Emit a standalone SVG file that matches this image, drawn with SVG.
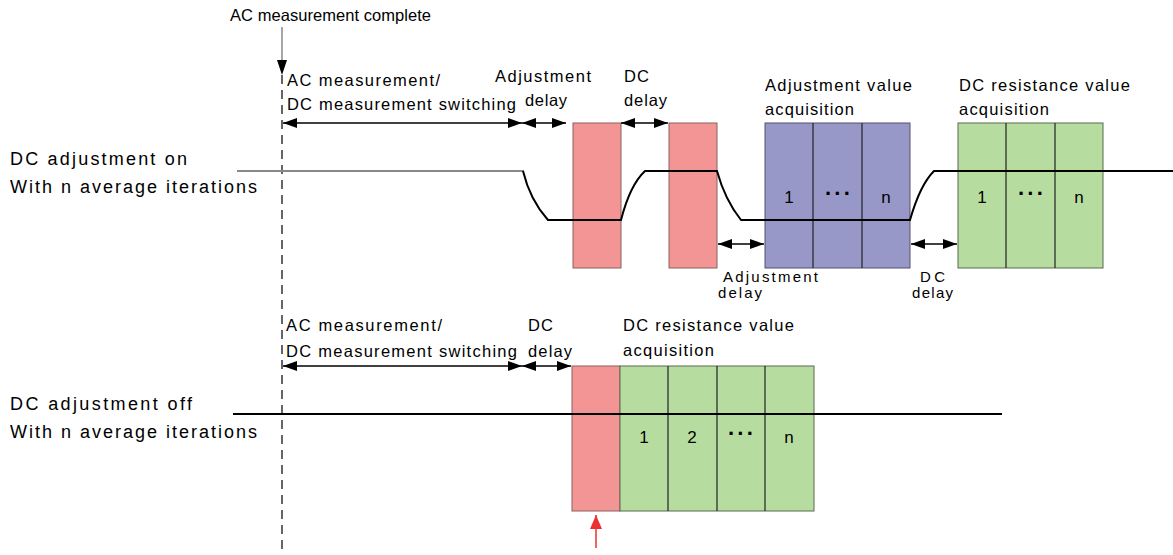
<svg xmlns="http://www.w3.org/2000/svg" width="1173" height="555" viewBox="0 0 1173 555">
<defs>
<marker id="ah" viewBox="0 0 14 10" refX="14" refY="5" markerWidth="14" markerHeight="10" markerUnits="userSpaceOnUse" orient="auto-start-reverse"><path d="M0,0 L14,5 L0,10 Z" fill="#000"/></marker>
<marker id="ahr" viewBox="0 0 14 12" refX="14" refY="6" markerWidth="14" markerHeight="12" markerUnits="userSpaceOnUse" orient="auto"><path d="M0,0 L14,6 L0,12 Z" fill="#ee3030"/></marker>
</defs>
<style>
text{font-family:"Liberation Sans",Arial,sans-serif;fill:#000}
.s{font-size:16.5px}
.t{font-size:15px}
.m{font-size:18px}
.r{fill:#f49595;stroke:#8a6060;stroke-width:1}
.p{fill:#9898c8;stroke:#505070;stroke-width:1}
.g{fill:#b6dca0;stroke:#5a6a50;stroke-width:1}
.dv{stroke:#222;stroke-width:1.2}
.w{fill:none;stroke:#000;stroke-width:2}
.a{stroke:#000;stroke-width:1.5;fill:none}
.num{font-size:17px;text-anchor:middle}
.dots{font-size:22px;font-weight:bold;text-anchor:middle;letter-spacing:2px}
</style>
<rect width="1173" height="555" fill="#fff"/>

<g id="labels">
<text class="s" x="230" y="21" textLength="201" lengthAdjust="spacing">AC measurement complete</text>
<text class="m" x="10" y="165" textLength="177" lengthAdjust="spacing">DC adjustment on</text>
<text class="m" x="10" y="193" textLength="247" lengthAdjust="spacing">With n average iterations</text>
<text class="m" x="10" y="410" textLength="182" lengthAdjust="spacing">DC adjustment off</text>
<text class="m" x="10" y="438" textLength="247" lengthAdjust="spacing">With n average iterations</text>
</g>

<g id="marker-line">
<line x1="282" y1="27" x2="282" y2="62" stroke="#888" stroke-width="1.5"/>
<path d="M277,60 L287,60 L282,75 Z" fill="#000"/>
<line x1="282" y1="75" x2="282" y2="555" stroke="#333" stroke-width="1.5" stroke-dasharray="9,6"/>
</g>

<g id="top-row">
<text class="s" x="287" y="86" textLength="153" lengthAdjust="spacing">AC measurement/</text>
<text class="s" x="287" y="110" textLength="229" lengthAdjust="spacing">DC measurement switching</text>
<text class="s" x="495" y="82" textLength="96" lengthAdjust="spacing">Adjustment</text>
<text class="s" x="525" y="106" textLength="42" lengthAdjust="spacing">delay</text>
<text class="s" x="624" y="82" textLength="25" lengthAdjust="spacing">DC</text>
<text class="s" x="624" y="106" textLength="43" lengthAdjust="spacing">delay</text>
<text class="s" x="765" y="91" textLength="147" lengthAdjust="spacing">Adjustment value</text>
<text class="s" x="765" y="115" textLength="89" lengthAdjust="spacing">acquisition</text>
<text class="s" x="959" y="91" textLength="171" lengthAdjust="spacing">DC resistance value</text>
<text class="s" x="959" y="115" textLength="90" lengthAdjust="spacing">acquisition</text>
<text class="t" x="723" y="282" textLength="95" lengthAdjust="spacing">Adjustment</text>
<text class="t" x="718" y="298" textLength="44" lengthAdjust="spacing">delay</text>
<text class="t" x="920" y="282" textLength="25" lengthAdjust="spacing">DC</text>
<text class="t" x="912" y="298" textLength="41" lengthAdjust="spacing">delay</text>
</g>

<g id="top-blocks">
<rect class="r" x="573" y="123" width="48" height="145"/>
<rect class="r" x="669" y="123" width="48" height="145"/>
<rect class="p" x="765" y="123" width="145" height="145"/>
<line class="dv" x1="813" y1="123" x2="813" y2="268"/>
<line class="dv" x1="862" y1="123" x2="862" y2="268"/>
<rect class="g" x="958" y="123" width="145" height="145"/>
<line class="dv" x1="1006" y1="123" x2="1006" y2="268"/>
<line class="dv" x1="1055" y1="123" x2="1055" y2="268"/>
<text class="num" x="789" y="203">1</text>
<text class="dots" x="839" y="201">···</text>
<text class="num" x="886" y="203">n</text>
<text class="num" x="982" y="203">1</text>
<text class="dots" x="1032" y="201">···</text>
<text class="num" x="1079" y="203">n</text>
</g>

<g id="top-wave">
<line x1="237" y1="171" x2="524" y2="171" stroke="#888" stroke-width="2"/>
<path class="w" d="M523,171 Q530,200 548,220 L621,220 Q630,185 645,171 L717,171 Q725,200 741,220 L910,220 Q920,185 934,171 L1173,171"/>
</g>

<g id="bottom-row">
<text class="s" x="286" y="331" textLength="156" lengthAdjust="spacing">AC measurement/</text>
<text class="s" x="286" y="357" textLength="231" lengthAdjust="spacing">DC measurement switching</text>
<text class="s" x="528" y="331" textLength="25" lengthAdjust="spacing">DC</text>
<text class="s" x="528" y="357" textLength="44" lengthAdjust="spacing">delay</text>
<text class="s" x="623" y="331" textLength="171" lengthAdjust="spacing">DC resistance value</text>
<text class="s" x="623" y="356" textLength="91" lengthAdjust="spacing">acquisition</text>
</g>

<g id="bottom-blocks">
<rect class="r" x="572" y="366" width="48" height="145"/>
<rect class="g" x="620" y="366" width="194" height="145"/>
<line class="dv" x1="668" y1="366" x2="668" y2="511"/>
<line class="dv" x1="717" y1="366" x2="717" y2="511"/>
<line class="dv" x1="765" y1="366" x2="765" y2="511"/>
<text class="num" x="644" y="443">1</text>
<text class="num" x="692" y="443">2</text>
<text class="dots" x="742" y="441">···</text>
<text class="num" x="789" y="443">n</text>
<line x1="233" y1="414" x2="1002" y2="414" stroke="#000" stroke-width="2"/>
</g>

<g id="connectors">
<line class="a" x1="283" y1="123" x2="522" y2="123" marker-start="url(#ah)" marker-end="url(#ah)"/>
<line class="a" x1="522" y1="123" x2="566" y2="123" marker-start="url(#ah)" marker-end="url(#ah)"/>
<line class="a" x1="621" y1="123" x2="668" y2="123" marker-start="url(#ah)" marker-end="url(#ah)"/>
<line class="a" x1="718" y1="244" x2="764" y2="244" marker-start="url(#ah)" marker-end="url(#ah)"/>
<line class="a" x1="911" y1="244" x2="957" y2="244" marker-start="url(#ah)" marker-end="url(#ah)"/>
<line class="a" x1="283" y1="366" x2="522" y2="366" marker-start="url(#ah)" marker-end="url(#ah)"/>
<line class="a" x1="522" y1="366" x2="571" y2="366" marker-start="url(#ah)" marker-end="url(#ah)"/>
<line x1="596" y1="548" x2="596" y2="515" stroke="#ee3030" stroke-width="1.5" marker-end="url(#ahr)"/>
</g>
</svg>
